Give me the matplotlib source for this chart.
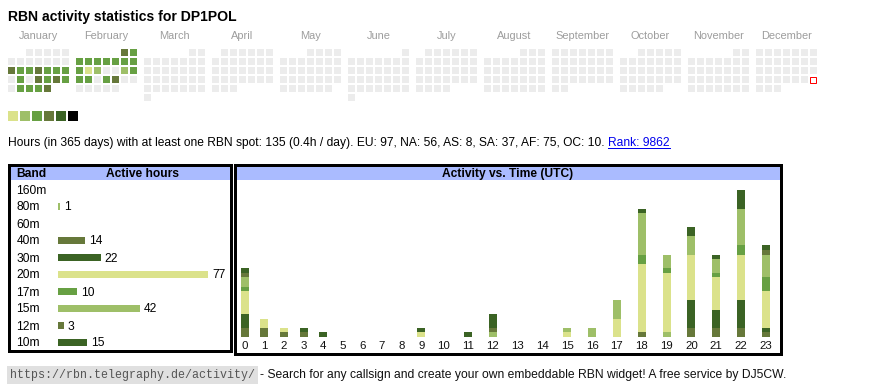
import datetime as dt
import matplotlib
matplotlib.use("Agg")
import matplotlib.pyplot as plt
from matplotlib.patches import Rectangle
from matplotlib.lines import Line2D
from matplotlib.transforms import IdentityTransform

# ---------------- data ----------------
title = "RBN activity statistics for DP1POL"
year = 2025
today = dt.date(2025, 12, 28)
month_names = ["January", "February", "March", "April", "May", "June",
               "July", "August", "September", "October", "November", "December"]

# daily activity level (0 = no spot, 1..5 = increasing activity)
jan_levels = [0, 0, 0, 0, 0,
              0, 0, 0, 0, 0, 0, 0,
              4, 3, 3, 4, 3, 3, 3,
              0, 3, 0, 4, 3, 4, 3,
              0, 3, 3, 3, 4]
feb_levels = [4, 3,
              3, 3, 3, 3, 3, 3, 3,
              3, 1, 2, 0, 0, 2, 3,
              3, 3, 0, 3, 4, 0, 0,
              0, 0, 0, 0, 0]
day_levels = {1: jan_levels, 2: feb_levels}
level_colors = ["#ececec", "#dbe28b", "#9ebf68", "#67a043", "#66783a", "#3b6324", "#000000"]

info_text = ("Hours (in 365 days) with at least one RBN spot: 135 (0.4h / day). "
             "EU: 97, NA: 56, AS: 8, SA: 37, AF: 75, OC: 10.")
rank_text = "Rank: 9862"

bands = ["160m", "80m", "60m", "40m", "30m", "20m", "17m", "15m", "12m", "10m"]
band_hours = [0, 1, 0, 14, 22, 77, 10, 42, 3, 15]
band_colors = ["#67a043", "#9ebf68", "#67a043", "#66783a", "#3b6324",
               "#dbe28b", "#67a043", "#9ebf68", "#66783a", "#3b6324"]

hour_labels = ["0", "1", "2", "3", "4", "5", "6", "7", "8", "9", "10", "11",
               "12", "13", "14", "15", "16", "17", "18", "19", "20", "21", "22", "23"]
hr_160m = [0, 0, 0, 0, 0, 0, 0, 0, 0, 0, 0, 0, 0, 0, 0, 0, 0, 0, 0, 0, 0, 0, 0, 0]
hr_80m  = [0, 0, 0, 0, 0, 0, 0, 0, 0, 0, 0, 0, 0, 0, 0, 0, 0, 0, 0, 1, 0, 0, 0, 0]
hr_60m  = [0, 0, 0, 0, 0, 0, 0, 0, 0, 0, 0, 0, 0, 0, 0, 0, 0, 0, 0, 0, 0, 0, 0, 0]
hr_40m  = [2, 2, 1, 1, 0, 0, 0, 0, 0, 0, 0, 0, 0, 0, 0, 0, 0, 0, 1, 0, 2, 2, 2, 1]
hr_30m  = [3, 0, 0, 1, 1, 0, 0, 0, 0, 0, 0, 0, 0, 0, 0, 0, 0, 0, 0, 0, 6, 4, 6, 1]
hr_20m  = [5, 2, 1, 0, 0, 0, 0, 0, 0, 1, 0, 0, 0, 0, 0, 1, 0, 4, 15, 13, 10, 7, 10, 8]
hr_17m  = [1, 0, 0, 0, 0, 0, 0, 0, 0, 0, 0, 0, 0, 0, 0, 0, 0, 0, 2, 1, 0, 1, 2, 3]
hr_15m  = [2, 0, 0, 0, 0, 0, 0, 0, 0, 0, 0, 0, 1, 0, 0, 1, 2, 4, 9, 3, 4, 3, 8, 5]
hr_12m  = [1, 0, 0, 0, 0, 0, 0, 0, 0, 0, 0, 0, 1, 0, 0, 0, 0, 0, 0, 0, 0, 0, 0, 1]
hr_10m  = [1, 0, 0, 0, 0, 0, 0, 0, 0, 1, 0, 1, 3, 0, 0, 0, 0, 0, 1, 0, 2, 1, 4, 1]
hourly = [hr_160m, hr_80m, hr_60m, hr_40m, hr_30m, hr_20m, hr_17m, hr_15m, hr_12m, hr_10m]

footer_url = "https://rbn.telegraphy.de/activity/"
footer_text = "- Search for any callsign and create your own embeddable RBN widget! A free service by DJ5CW."

# ---------------- layout helpers ----------------
W, H, DPI = 870, 390, 100
SANS = ["Liberation Sans", "DejaVu Sans"]
MONO = ["Liberation Mono", "DejaVu Sans Mono"]
HEADER_BLUE = "#aabbff"

fig = plt.figure(figsize=(W / DPI, H / DPI), dpi=DPI, facecolor="white")


def pt(px):
    return px * 72 / DPI


def fxy(x, y):
    return x / W, 1 - y / H


def add_ax(x0, y0, x1, y1):
    ax = fig.add_axes([x0 / W, 1 - y1 / H, (x1 - x0) / W, (y1 - y0) / H])
    ax.patch.set_alpha(0)
    return ax


def fig_rect(x0, y0, x1, y1, **kw):
    r = Rectangle((x0 / W, 1 - y1 / H), (x1 - x0) / W, (y1 - y0) / H,
                  transform=fig.transFigure, **kw)
    fig.add_artist(r)
    return r


# ---------------- title ----------------
fig.text(*fxy(8, 21), title, fontsize=pt(14), fontweight="bold", family=SANS,
         ha="left", va="baseline", color="#000000")

# ---------------- calendar ----------------
CELL, PITCH, MONTH_PITCH = 7, 9, 68
cal_w = 11 * MONTH_PITCH + 6 * PITCH + CELL
cal = add_ax(8, 49, 8 + cal_w, 121)
cal.set_axis_off()
cal.set_xlim(0, cal_w)
cal.set_ylim(72, 0)

xs, ys, cs = [], [], []
today_xy = None
for m in range(1, 13):
    first = dt.date(year, m, 1)
    nxt = dt.date(year + (m == 12), m % 12 + 1, 1)
    ndays = (nxt - first).days
    levels = day_levels.get(m)
    for d in range(1, ndays + 1):
        pos = first.weekday() + d - 1
        x = (m - 1) * MONTH_PITCH + (pos % 7) * PITCH
        y = (pos // 7) * PITCH
        if dt.date(year, m, d) == today:
            today_xy = (x, y)
            continue
        xs.append(x)
        ys.append(y)
        cs.append(level_colors[levels[d - 1] if levels else 0])
    cal.text((m - 1) * MONTH_PITCH + (6 * PITCH + CELL) / 2, -10, month_names[m - 1],
             ha="center", va="baseline", fontsize=pt(11), color="#9d9d9d", family=SANS)
cal.bar(xs, CELL, width=CELL, bottom=ys, align="edge", color=cs, linewidth=0)
if today_xy is not None:
    cal.bar([today_xy[0] + 0.5], CELL - 1, width=CELL - 1, bottom=today_xy[1] + 0.5,
            align="edge", facecolor="white", edgecolor="#ff0000", linewidth=pt(1))

# legend swatches
lx = [(i - 1) * 12 for i in range(1, len(level_colors))]
cal.bar(lx, 10, width=10, bottom=62, align="edge", color=level_colors[1:], linewidth=0)

# ---------------- info line ----------------
t_info = fig.text(*fxy(8, 146), info_text, fontsize=pt(12), family=SANS,
                  ha="left", va="baseline", color="#000000")
t_rank = plt.annotate(rank_text, xy=(1, 0), xycoords=t_info, xytext=(3.4, 0),
                      textcoords="offset pixels", fontsize=pt(12), family=SANS,
                      ha="left", va="bottom", color="#0000ee", annotation_clip=False)

# ---------------- boxes ----------------
fig_rect(11, 166, 230, 180, facecolor=HEADER_BLUE, edgecolor="none")
fig_rect(236, 166, 780, 180, facecolor=HEADER_BLUE, edgecolor="none")
fig_rect(9.5, 164.5, 231.5, 351, fill=False, edgecolor="black", linewidth=pt(3))
fig_rect(234.5, 164.5, 781.5, 353.5, fill=False, edgecolor="black", linewidth=pt(3))

fig.text(*fxy(16.5, 177), "Band", fontsize=pt(12), fontweight="bold", family=SANS,
         ha="left", va="baseline")
fig.text(*fxy(142, 177), "Active hours", fontsize=pt(12), fontweight="bold", family=SANS,
         ha="center", va="baseline")
fig.text(*fxy(508, 177), "Activity vs. Time (UTC)", fontsize=pt(12), fontweight="bold",
         family=SANS, ha="center", va="baseline")

# ---------------- band table ----------------
ROW_PX, ROW0_PX = 17, 189
BAR_X0_PX, BAR_MAX_PX = 58, 150
bx0, bx1, by0, by1 = 11, 230, 181, 349
band_ax = add_ax(bx0, by0, bx1, by1)
band_ax.set_axis_off()
scale = BAR_MAX_PX / max(band_hours)  # px per hour
band_ax.set_xlim((bx0 - BAR_X0_PX) / scale, (bx1 - BAR_X0_PX) / scale)
band_ax.set_ylim((by1 - ROW0_PX) / ROW_PX, (by0 - ROW0_PX) / ROW_PX)
rows = list(range(len(bands)))
band_ax.barh(rows, band_hours, height=7 / ROW_PX, left=0, color=band_colors, linewidth=0)
for i, (b, h) in enumerate(zip(bands, band_hours)):
    band_ax.text((16.5 - BAR_X0_PX) / scale, i, b, ha="left", va="center_baseline",
                 fontsize=pt(12), family=SANS)
    if h > 0:
        band_ax.text(h + 4 / scale, i, str(h), ha="left", va="center_baseline",
                     fontsize=pt(12), family=SANS)

# ---------------- activity vs time ----------------
UNIT_PX = 4.58
ax0_px, ax1_px, ay0_px, ay1_px = 235, 780, 180, 337
col_w = [14.4 + 5.2 * len(lbl) for lbl in hour_labels]
centers = []
acc = 0
for w in col_w:
    centers.append(acc + w / 2)
    acc += w
act = add_ax(ax0_px, ay0_px, ax1_px, ay1_px)
act.set_xlim(0, ax1_px - ax0_px)
act.set_ylim(0, (ay1_px - ay0_px) / UNIT_PX)
for s in act.spines.values():
    s.set_visible(False)
act.set_yticks([])
bottom = [0] * 24
for vals, col in zip(hourly, band_colors):
    act.bar(centers, vals, width=8, bottom=bottom, color=col, linewidth=0)
    bottom = [b + v for b, v in zip(bottom, vals)]
act.set_xticks(centers)
act.set_xticklabels(hour_labels, fontsize=pt(11.5), family=SANS, color="#111111")
act.tick_params(axis="x", length=0, pad=pt(4))

# ---------------- footer ----------------
t_url = fig.text(*fxy(10, 378), footer_url, fontsize=pt(11.6), family=MONO,
                 ha="left", va="baseline", color="#555555",
                 bbox=dict(boxstyle="square,pad=0.22", facecolor="#e0e0e0", edgecolor="none"))
plt.annotate(footer_text, xy=(1, 0), xycoords=t_url, xytext=(5, 0),
             textcoords="offset pixels", fontsize=pt(12.1), family=SANS,
             ha="left", va="bottom", color="#111111", annotation_clip=False)

# underline of the rank link
fig.canvas.draw()
bb = t_rank.get_window_extent()
base_y = H - 146 - 1.5
fig.add_artist(Line2D([bb.x0, bb.x1], [base_y, base_y], transform=IdentityTransform(),
                      color="#0000ee", linewidth=pt(1)))

fig.savefig("out.png", dpi=DPI, facecolor="white")
